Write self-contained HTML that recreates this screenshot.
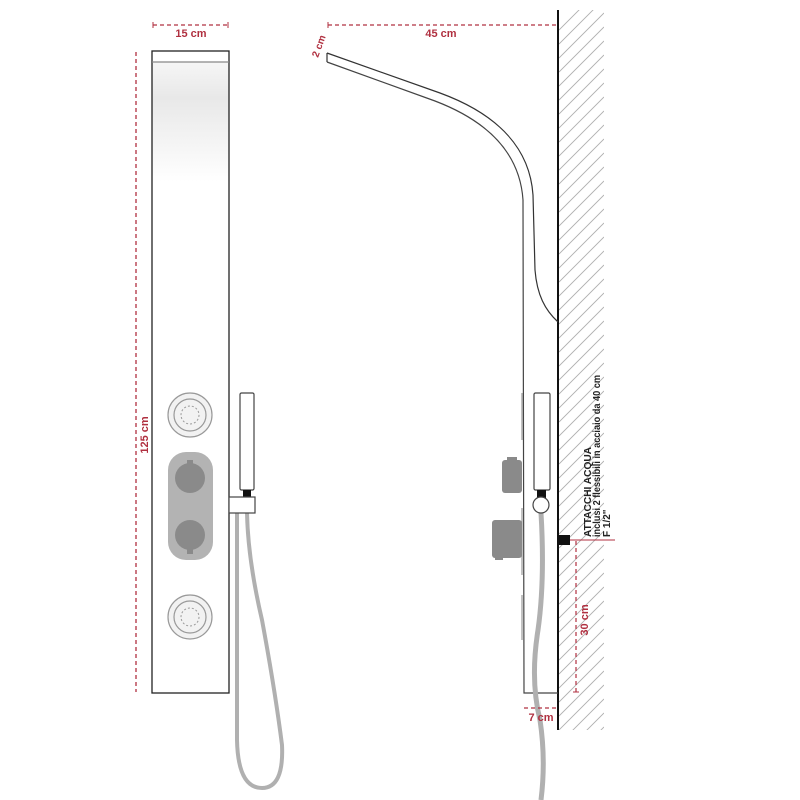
<!DOCTYPE html>
<html><head><meta charset="utf-8"><style>html,body{margin:0;padding:0;background:#fff}svg{display:block}</style></head>
<body>
<svg width="800" height="800" viewBox="0 0 800 800" xmlns="http://www.w3.org/2000/svg" font-family="'Liberation Sans Narrow','Liberation Sans',sans-serif">
<defs>
<linearGradient id="g" x1="0" y1="0" x2="0" y2="1">
<stop offset="0" stop-color="#f6f6f6"/><stop offset="0.3" stop-color="#e8e8e8"/><stop offset="1" stop-color="#ffffff"/>
</linearGradient>
<clipPath id="wall"><rect x="559" y="10" width="45" height="720"/></clipPath>
</defs>
<!-- LEFT PANEL -->
<rect x="152" y="62" width="77" height="120" fill="url(#g)"/>
<rect x="152" y="51" width="77" height="642" fill="none" stroke="#222" stroke-width="1.3"/>
<line x1="152" y1="62" x2="229" y2="62" stroke="#888" stroke-width="1.3"/>
<!-- 15cm -->
<line x1="153" y1="25" x2="228" y2="25" stroke="#b03040" stroke-width="1.3" stroke-dasharray="4,3"/>
<line x1="153" y1="22" x2="153" y2="28" stroke="#b03040"/><line x1="228" y1="22" x2="228" y2="28" stroke="#b03040"/>
<text x="191" y="37" font-size="11" font-weight="bold" fill="#b03040" text-anchor="middle">15 cm</text>
<!-- 125cm -->
<line x1="136" y1="52" x2="136" y2="692" stroke="#b03040" stroke-width="1.3" stroke-dasharray="4,3"/>
<text transform="translate(148,435) rotate(-90)" font-size="11" font-weight="bold" fill="#b03040" text-anchor="middle">125 cm</text>
<!-- jets -->
<g fill="none" stroke="#999">
<circle cx="190" cy="415" r="22" fill="#f2f2f2" stroke-width="1.2"/>
<circle cx="190" cy="415" r="16" stroke-width="1.2"/>
<circle cx="190" cy="415" r="9" stroke-dasharray="2,2"/>
<circle cx="190" cy="617" r="22" fill="#f2f2f2" stroke-width="1.2"/>
<circle cx="190" cy="617" r="16" stroke-width="1.2"/>
<circle cx="190" cy="617" r="9" stroke-dasharray="2,2"/>
</g>
<rect x="168" y="452" width="45" height="108" rx="18" fill="#b3b3b3"/>
<circle cx="190" cy="478" r="15" fill="#8a8a8a"/><rect x="187" y="460" width="6" height="6" fill="#8a8a8a"/>
<circle cx="190" cy="535" r="15" fill="#8a8a8a"/><rect x="187" y="546" width="6" height="8" fill="#8a8a8a"/>
<!-- hand shower left -->
<path d="M237,513 L237,740 Q238,788 262,788 Q284,788 282,745 Q275,690 262,620 Q248,560 247,513" fill="none" stroke="#b0b0b0" stroke-width="4"/>
<rect x="240" y="393" width="14" height="97" rx="1.5" fill="#fff" stroke="#444" stroke-width="1.2"/>
<rect x="243" y="490" width="8" height="8" fill="#111"/>
<rect x="229" y="497" width="26" height="16" fill="#fff" stroke="#444" stroke-width="1.2"/>
<!-- RIGHT: wall -->
<g clip-path="url(#wall)" stroke="#b0b0b0" stroke-width="0.9">
<path d="M559,30 l45,-45 M559,44 l45,-45 M559,58 l45,-45 M559,72 l45,-45 M559,86 l45,-45 M559,100 l45,-45 M559,114 l45,-45 M559,128 l45,-45 M559,142 l45,-45 M559,156 l45,-45 M559,170 l45,-45 M559,184 l45,-45 M559,198 l45,-45 M559,212 l45,-45 M559,226 l45,-45 M559,240 l45,-45 M559,254 l45,-45 M559,268 l45,-45 M559,282 l45,-45 M559,296 l45,-45 M559,310 l45,-45 M559,324 l45,-45 M559,338 l45,-45 M559,352 l45,-45 M559,366 l45,-45 M559,380 l45,-45 M559,394 l45,-45 M559,408 l45,-45 M559,422 l45,-45 M559,436 l45,-45 M559,450 l45,-45 M559,464 l45,-45 M559,478 l45,-45 M559,492 l45,-45 M559,506 l45,-45 M559,520 l45,-45 M559,534 l45,-45 M559,548 l45,-45 M559,562 l45,-45 M559,576 l45,-45 M559,590 l45,-45 M559,604 l45,-45 M559,618 l45,-45 M559,632 l45,-45 M559,646 l45,-45 M559,660 l45,-45 M559,674 l45,-45 M559,688 l45,-45 M559,702 l45,-45 M559,716 l45,-45 M559,730 l45,-45 M559,744 l45,-45 M559,758 l45,-45 M559,772 l45,-45"/>
</g>
<line x1="558" y1="10" x2="558" y2="730" stroke="#111" stroke-width="2"/>
<!-- arm -->
<path d="M327,53 L440,93 C500,115 530,150 533,195 L535,270 C537,295 545,310 558,322" fill="none" stroke="#333" stroke-width="1.2"/>
<path d="M327,62 L435,101 C490,122 520,155 523,200 L524,693 L558,693" fill="none" stroke="#444" stroke-width="1.2"/>
<line x1="327" y1="53" x2="327" y2="62" stroke="#333" stroke-width="1.2"/>
<!-- panel side marks -->
<g stroke="#999" stroke-width="1.2"><line x1="522" y1="393" x2="522" y2="440"/><line x1="522" y1="508" x2="522" y2="575"/><line x1="522" y1="595" x2="522" y2="640"/></g>
<!-- valves -->
<rect x="502" y="460" width="20" height="33" rx="3" fill="#8a8a8a"/><rect x="507" y="457" width="10" height="5" fill="#8a8a8a"/>
<rect x="492" y="520" width="30" height="38" rx="3" fill="#8a8a8a"/><rect x="495" y="552" width="8" height="8" fill="#8a8a8a"/>
<!-- hand shower right -->
<path d="M541,513 Q545,580 538,630 Q530,680 540,720 Q546,760 541,800" fill="none" stroke="#b0b0b0" stroke-width="5"/>
<rect x="534" y="393" width="16" height="97" rx="1.5" fill="#fff" stroke="#444" stroke-width="1.2"/>
<rect x="537" y="490" width="9" height="8" fill="#111"/>
<circle cx="541" cy="505" r="8" fill="#fff" stroke="#444" stroke-width="1.2"/>
<rect x="559" y="535" width="11" height="10" fill="#111"/>
<!-- dims right -->
<line x1="570" y1="540" x2="615" y2="540" stroke="#b03040" stroke-width="1"/>
<line x1="576" y1="541" x2="576" y2="692" stroke="#b03040" stroke-width="1.2" stroke-dasharray="4,3"/>
<line x1="573" y1="692" x2="579" y2="692" stroke="#b03040"/>
<text transform="translate(588,620) rotate(-90)" font-size="11" font-weight="bold" fill="#b03040" text-anchor="middle">30 cm</text>
<line x1="524" y1="708" x2="557" y2="708" stroke="#b03040" stroke-width="1.2" stroke-dasharray="4,3"/>
<text x="541" y="721" font-size="11" font-weight="bold" fill="#b03040" text-anchor="middle">7 cm</text>
<line x1="328" y1="25" x2="557" y2="25" stroke="#b03040" stroke-width="1.3" stroke-dasharray="4,3"/>
<line x1="328" y1="22" x2="328" y2="28" stroke="#b03040"/>
<text x="441" y="37" font-size="11" font-weight="bold" fill="#b03040" text-anchor="middle">45 cm</text>
<text transform="translate(318,58) rotate(-70)" font-size="10" font-weight="bold" fill="#b03040">2 cm</text>
<text transform="translate(591,537) rotate(-90)" font-size="10" font-weight="bold" fill="#222" textLength="90" lengthAdjust="spacingAndGlyphs">ATTACCHI ACQUA</text>
<text transform="translate(600,537) rotate(-90)" font-size="10" font-weight="bold" fill="#222" textLength="162" lengthAdjust="spacingAndGlyphs">inclusi 2 flessibili in acciaio da 40 cm</text>
<text transform="translate(610,537) rotate(-90)" font-size="10" font-weight="bold" fill="#222">F 1/2"</text>
</svg>
</body></html>
